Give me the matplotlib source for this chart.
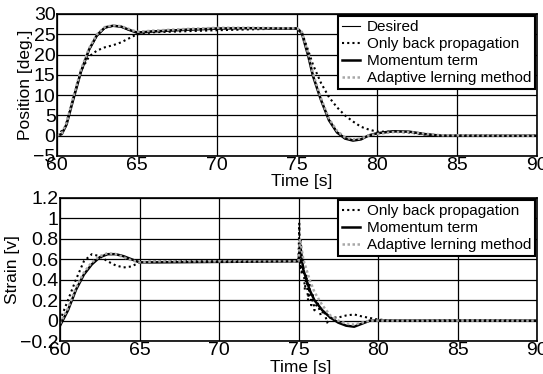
import matplotlib.pyplot as plt

plt.rcParams['font.family'] = ['Liberation Sans', 'DejaVu Sans']

# Position plot data (time [s], position [deg.])
t_des = [60, 60.3, 60.6, 61, 61.5, 62, 62.5, 63, 63.5, 64, 64.5, 65, 66, 68, 70, 72, 74, 75,
         75.3, 75.7, 76, 76.5, 77, 77.5, 78, 78.5, 79, 79.5, 80, 81, 82, 83, 84, 90]
pos_des = [0, 0.5, 3, 9, 16, 21, 24.5, 26.5, 27, 26.8, 26, 25.5, 25.8, 26.2, 26.5, 26.5, 26.5, 26.5,
           25.5, 20, 15, 9, 4, 1, -0.5, -1, -0.8, 0, 0.5, 1, 1, 0.5, 0, 0]
pos_mom = [0, 0.4, 2.8, 8.7, 15.8, 21.2, 24.8, 26.7, 27.1, 26.9, 26.1, 25.4, 25.7, 26.1, 26.4, 26.5, 26.4, 26.4,
           25.3, 19.7, 14.7, 8.8, 3.8, 0.8, -0.7, -1.2, -0.9, 0.1, 0.6, 1.1, 1, 0.4, 0, 0]
pos_ada = [0, 0.6, 3.2, 9.3, 16.3, 21.5, 25, 26.8, 27.2, 27, 26.3, 25.6, 25.9, 26.3, 26.6, 26.6, 26.5, 26.5,
           25.6, 20.3, 15.3, 9.2, 4.2, 1.2, -0.4, -0.9, -0.7, 0.1, 0.4, 0.9, 0.9, 0.5, 0.1, 0]
t_bp = [60, 60.5, 61, 61.5, 62, 62.5, 63, 63.5, 64, 64.5, 65, 66, 70, 75, 75.3, 75.7, 76, 76.5, 77,
        77.5, 78, 78.5, 79, 79.5, 80, 81, 82, 83, 84, 90]
pos_bp = [0, 2, 9, 16, 19.5, 21, 21.8, 22.3, 23, 24, 25, 25.5, 26, 26.5, 25.5, 21, 17.5, 13, 9.5,
          7, 5, 3.5, 2.2, 1.5, 1, 1, 0.8, 0.3, 0, 0]

# Strain plot data (time [s], strain [v])
t_s = [60, 60.5, 61, 61.5, 62, 62.5, 63, 63.5, 64, 64.5, 65, 66, 75, 75.1, 75.3, 75.7, 76, 76.5,
       77, 77.5, 78, 78.5, 79, 79.5, 80, 90]
str_mom = [-0.05, 0.1, 0.3, 0.45, 0.55, 0.62, 0.65, 0.65, 0.63, 0.6, 0.57, 0.57, 0.58, 0.75, 0.5, 0.3, 0.2, 0.1,
           0.03, -0.02, -0.05, -0.06, -0.03, 0, 0, 0]
str_ada = [-0.03, 0.12, 0.32, 0.47, 0.57, 0.63, 0.66, 0.65, 0.62, 0.59, 0.57, 0.58, 0.58, 0.8, 0.6, 0.4, 0.28, 0.15,
           0.05, 0, -0.03, -0.04, -0.02, 0, 0, 0]
t_sbp = [60, 60.5, 61, 61.5, 62, 62.5, 63, 63.5, 64, 64.5, 65, 66, 75, 75.05, 75.1, 75.15, 75.2, 75.3,
         75.4, 75.5, 75.6, 75.7, 75.8, 75.9, 76, 76.2, 76.4, 76.6, 76.8, 77, 77.5, 78, 78.5, 79, 80, 81, 90]
str_bp = [0, 0.2, 0.4, 0.58, 0.65, 0.63, 0.58, 0.54, 0.52, 0.53, 0.57, 0.58, 0.58, 0.95, 0.5, 0.8, 0.45, 0.6,
          0.3, 0.45, 0.2, 0.35, 0.15, 0.25, 0.1, 0.18, 0.05, 0.1, -0.02, 0.03, 0.03, 0.05, 0.06, 0.04, 0.01, 0, 0]

gray = '#a8a8a8'
fig = plt.figure(figsize=(5.43, 3.74), dpi=100)
ax1 = fig.add_axes([57 / 543, 1 - 156 / 374, 480 / 543, 142 / 374])
ax2 = fig.add_axes([60 / 543, 1 - 341 / 374, 477 / 543, 143 / 374])

ax1.plot(t_des, pos_des, color='black', lw=0.8, label='Desired')
ax1.plot(t_bp, pos_bp, color='black', lw=1.5, ls=(0, (1, 1.5)), label='Only back propagation')
ax1.plot(t_des, pos_mom, color='black', lw=1.8, label='Momentum term')
ax1.plot(t_des, pos_ada, color=gray, lw=1.8, ls=(0, (1, 1)), label='Adaptive lerning method')
ax1.set_xlim(60, 90)
ax1.set_ylim(-5, 30)
ax1.set_yticks([-5, 0, 5, 10, 15, 20, 25, 30])
ax1.set_yticklabels(['\u22125', '0', '5', '10', '15', '20', '25', '30'])
ax1.set_ylabel('Position [deg.]', fontsize=12.5, labelpad=0)
ax1.set_xlabel('Time [s]', fontsize=12.5)
ax1.xaxis.set_label_coords(0.51, -0.13)

ax2.plot(t_sbp, str_bp, color='black', lw=1.5, ls=(0, (1, 1.5)), label='Only back propagation')
ax2.plot(t_s, str_mom, color='black', lw=1.8, label='Momentum term')
ax2.plot(t_s, str_ada, color=gray, lw=1.8, ls=(0, (1, 1)), label='Adaptive lerning method')
ax2.set_xlim(60, 90)
ax2.set_ylim(-0.2, 1.2)
ax2.set_yticks([-0.2, 0, 0.2, 0.4, 0.6, 0.8, 1, 1.2])
ax2.set_yticklabels(['\u22120.2', '0', '0.2', '0.4', '0.6', '0.8', '1', '1.2'])
ax2.set_ylabel('Strain [v]', fontsize=12.5, labelpad=0)
ax2.set_xlabel('Time [s]', fontsize=12.5)
ax2.xaxis.set_label_coords(0.505, -0.13)

for ax in (ax1, ax2):
    ax.set_xticks([60, 65, 70, 75, 80, 85, 90])
    ax.grid(True, color='black', lw=0.9)
    ax.tick_params(labelsize=14, length=0, pad=1)
    for s in ax.spines.values():
        s.set_linewidth(1.2)
    leg = ax.legend(loc='upper right', fontsize=11, frameon=True, fancybox=False,
                    edgecolor='black', framealpha=1, borderpad=0.25, labelspacing=0.2,
                    handlelength=1.2, handletextpad=0.4, borderaxespad=0.15)
    leg.get_frame().set_linewidth(1.5)

fig.savefig('out.png', dpi=100)
